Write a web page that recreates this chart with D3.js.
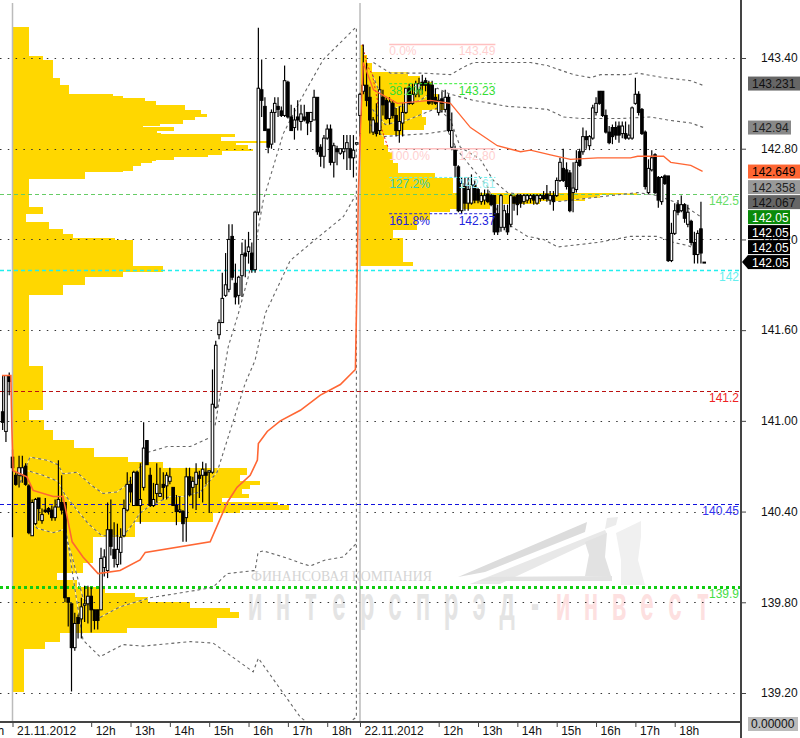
<!DOCTYPE html>
<html>
<head>
<meta charset="utf-8">
<script src="https://cdn.jsdelivr.net/npm/d3@7"></script>
<style>
body { margin: 0; background: #fff; }
text { font-family: 'Liberation Sans', Arial, sans-serif; font-size: 12px; }
.axis path, .axis line { stroke: #444; }
</style>
</head>
<body>
<script>
// price axis
var priceTicks = [143.40, 142.80, 142.20, 141.60, 141.00, 140.40, 139.80, 139.20];

// time axis, in 5 minute bars from the 21.11 open
var timeTicks = [-10, 0, 24, 36, 48, 60, 72, 84, 96, 106, 130, 142, 154, 166, 178, 190, 202];
var timeLabels = ['18h', '21.11.2012', '12h', '13h', '14h', '15h', '16h', '17h', '18h', '22.11.2012', '12h', '13h', '14h', '15h', '16h', '17h', '18h'];

// [open, high, low, close], the first bar of this list is bar -3
var candlesDay1 = [
    [141.06,141.30,140.94,140.99],[140.93,141.30,140.86,141.30],[141.30,141.32,141.17,141.26],
    [140.76,140.81,140.23,140.69],[140.64,140.66,140.57,140.58],[140.64,140.77,140.56,140.69],[140.64,140.77,140.59,140.69],
    [140.70,140.72,140.57,140.58],[140.57,140.58,140.25,140.26],[140.24,140.48,140.24,140.46],[140.32,140.49,140.31,140.48],
    [140.49,140.49,140.34,140.42],[140.34,140.42,140.32,140.38],[140.41,140.49,140.39,140.40],[140.42,140.43,140.38,140.40],
    [140.41,140.44,140.34,140.36],[140.36,140.48,140.34,140.43],[140.43,140.74,140.43,140.48],[140.46,140.64,140.38,140.41],
    [140.46,140.46,139.80,139.83],[139.83,139.83,139.64,139.80],[139.79,139.79,139.21,139.50],[139.50,139.73,139.48,139.66],
    [139.70,139.72,139.56,139.66],[139.69,139.83,139.56,139.77],[139.78,139.91,139.67,139.79],[139.79,139.91,139.66,139.84],
    [139.84,139.90,139.60,139.75],[139.75,139.75,139.62,139.68],[139.75,139.75,139.62,139.68],[139.75,140.16,139.75,140.09],
    [140.03,140.15,139.97,140.10],[140.01,140.46,139.96,140.28],[140.28,140.48,140.11,140.17],[140.15,140.33,140.03,140.09],
    [140.05,140.32,140.03,140.15],[140.13,140.29,140.05,140.23],[140.24,140.48,140.23,140.42],[140.41,140.66,140.40,140.58],
    [140.58,140.63,140.46,140.53],[140.44,140.67,140.44,140.66],[140.66,140.67,140.44,140.44],[140.44,140.72,140.32,140.48],
    [140.56,140.99,140.54,140.82],[140.87,140.87,140.71,140.71],[140.64,140.69,140.43,140.44],[140.44,140.59,140.43,140.48],
    [140.52,140.72,140.46,140.58],[140.50,140.69,140.50,140.52],[140.58,140.66,140.48,140.56],[140.57,140.66,140.48,140.64],
    [140.60,140.69,140.58,140.63],[140.56,140.56,140.44,140.44],[140.44,140.51,140.31,140.40],[140.40,140.50,140.39,140.41],
    [140.40,140.41,140.20,140.32],[140.36,140.69,140.20,140.63],[140.63,140.69,140.50,140.51],[140.56,140.63,140.42,140.60],
    [140.58,140.72,140.41,140.66],[140.64,140.67,140.49,140.62],[140.64,140.73,140.46,140.68],[140.66,140.72,140.58,140.64],
    [140.66,140.67,140.39,140.67],[140.66,141.34,140.65,141.11],[141.09,141.53,141.08,141.50],[141.57,141.67,141.54,141.65],
    [141.65,141.98,141.65,141.81],[141.83,142.11,141.82,141.90],[141.87,142.30,141.85,142.20],[142.22,142.30,141.93,141.95],
    [141.91,142.04,141.77,141.82],[141.83,141.96,141.77,141.95],[141.96,142.18,141.82,142.10],[142.11,142.20,141.95,142.09],
    [142.12,142.25,142.04,142.15],[142.11,142.18,141.98,142.00],[142.00,142.39,141.98,142.38],[142.38,143.60,142.36,143.20],
    [143.19,143.39,143.01,143.12],[143.08,143.14,142.92,142.92],[142.93,142.93,142.77,142.81],[142.83,143.06,142.80,143.04],
    [143.04,143.14,142.84,143.10],[143.08,143.14,143.01,143.06],[143.05,143.08,143.01,143.02],[143.02,143.35,143.01,143.25],
    [143.24,143.25,143.00,143.01],[143.01,143.09,142.92,142.92],[142.94,143.07,142.86,142.99],[143.01,143.12,142.92,142.99],
    [142.98,143.09,142.92,143.03],[143.01,143.09,142.98,142.99],[143.04,143.04,142.89,142.97],[142.98,143.04,142.91,143.04],
    [142.99,143.19,142.99,143.14],[143.14,143.14,142.76,142.78],[142.81,142.83,142.68,142.75],[142.75,142.89,142.67,142.87],
    [142.87,142.96,142.86,142.93],[142.93,142.96,142.69,142.71],[142.71,142.84,142.61,142.82],[142.80,142.82,142.69,142.78],
    [142.77,142.80,142.76,142.80],[142.78,142.89,142.73,142.80],[142.80,142.89,142.66,142.84],[142.80,142.89,142.66,142.74],
    [142.74,142.89,142.61,142.79],[142.83,142.84,142.83,142.84]
];

// the first bar of this list is bar 106
var candlesDay2 = [
    [143.02,143.17,142.88,143.16],[143.18,143.49,143.16,143.22],[143.22,143.37,143.08,143.12],[143.14,143.21,142.90,142.99],
    [142.91,143.01,142.89,142.99],[142.97,143.10,142.88,142.90],[142.92,143.28,142.89,143.19],[143.14,143.19,143.02,143.09],
    [143.12,143.14,142.99,143.00],[143.00,143.14,142.96,143.11],[143.10,143.12,143.00,143.02],[143.02,143.07,142.88,142.92],
    [142.92,143.08,142.84,142.98],[142.97,143.10,142.88,143.04],[143.04,143.20,143.03,143.20],[143.20,143.23,143.09,143.10],
    [143.10,143.23,143.09,143.16],[143.16,143.25,143.14,143.23],[143.19,143.27,143.14,143.23],[143.24,143.29,143.16,143.22],
    [143.25,143.27,143.18,143.22],[143.23,143.25,143.09,143.10],[143.22,143.25,143.09,143.11],[143.14,143.20,143.09,143.10],
    [143.04,143.16,143.02,143.12],[143.13,143.18,143.04,143.10],[143.06,143.19,143.04,143.14],[143.14,143.16,142.91,142.92],
    [142.81,143.04,142.79,142.92],[142.79,142.82,142.61,142.69],[142.68,142.69,142.38,142.39],[142.39,142.61,142.37,142.57],
    [142.55,142.61,142.39,142.44],[142.44,142.61,142.39,142.53],[142.44,142.63,142.43,142.56],[142.56,142.59,142.44,142.46],
    [142.53,142.54,142.44,142.46],[142.45,142.51,142.43,142.49],[142.46,142.53,142.43,142.49],[142.50,142.53,142.44,142.45],
    [142.49,142.50,142.42,142.43],[142.49,142.49,142.23,142.25],[142.37,142.43,142.23,142.25],[142.28,142.50,142.25,142.49],
    [142.28,142.43,142.26,142.39],[142.37,142.43,142.23,142.25],[142.30,142.50,142.28,142.49],[142.48,142.49,142.39,142.44],
    [142.49,142.50,142.36,142.43],[142.49,142.50,142.41,142.44],[142.45,142.50,142.43,142.49],[142.46,142.50,142.44,142.49],
    [142.47,142.50,142.44,142.49],[142.49,142.50,142.43,142.46],[142.44,142.50,142.43,142.49],[142.47,142.50,142.45,142.49],
    [142.49,142.52,142.46,142.47],[142.50,142.56,142.45,142.47],[142.46,142.52,142.43,142.49],[142.49,142.52,142.39,142.45],
    [142.49,142.61,142.48,142.59],[142.59,142.74,142.58,142.71],[142.67,142.80,142.58,142.59],[142.66,142.71,142.53,142.55],
    [142.64,142.66,142.38,142.39],[142.51,142.71,142.38,142.54],[142.53,142.79,142.51,142.71],[142.78,142.80,142.68,142.69],
    [142.78,142.94,142.76,142.88],[142.88,142.92,142.80,142.86],[142.82,142.89,142.79,142.88],[142.87,143.09,142.86,143.07],
    [143.04,143.14,143.02,143.10],[143.18,143.18,143.09,143.10],[143.18,143.18,143.01,143.02],[143.02,143.06,142.90,142.91],
    [142.91,142.95,142.83,142.84],[142.94,142.96,142.83,142.88],[142.94,142.98,142.86,142.89],[142.95,142.98,142.84,142.89],
    [142.90,142.98,142.87,142.95],[142.90,142.98,142.86,142.87],[142.87,142.96,142.86,142.89],[142.87,143.08,142.86,143.07],
    [143.10,143.27,143.09,143.16],[143.16,143.18,143.02,143.04],[143.06,143.07,142.89,142.90],[142.91,142.92,142.53,142.55],
    [142.51,142.73,142.50,142.67],[142.66,142.79,142.65,142.74],[142.76,142.77,142.50,142.51],[142.61,142.62,142.41,142.46],
    [142.45,142.62,142.43,142.61],[142.62,142.63,142.56,142.57],[142.62,142.62,142.05,142.06],[142.06,142.31,142.05,142.24],
    [142.24,142.44,142.23,142.39],[142.43,142.46,142.36,142.38],[142.39,142.49,142.38,142.43],[142.43,142.44,142.31,142.34],
    [142.30,142.43,142.28,142.38],[142.32,142.33,142.16,142.18],[142.18,142.25,142.04,142.10],[142.10,142.26,142.04,142.24],
    [142.27,142.45,142.04,142.11],[142.05,142.05,142.05,142.05]
];

// volume profile, [top price of the step, volume]
var profileDay1 = [
    [143.605,16],[143.414,30],[143.387,40],[143.268,47],[143.222,56],[143.162,100],[143.149,110],[143.136,132],[143.116,143],
    [143.089,172],[143.056,188],[143.030,194],[143.010,182],[142.990,170],[142.964,147],[142.951,130],[142.944,161],[142.917,144],
    [142.904,148],[142.898,222],[142.878,208],[142.851,258],[142.835,223],[142.825,235],[142.798,240],[142.785,209],[142.759,195],
    [142.745,161],[142.726,143],[142.716,139],[142.706,128],[142.686,120],[142.653,110],[142.646,72],[142.600,16],[142.415,30],
    [142.368,13],[142.315,36],[142.269,50],[142.236,60],[142.210,102],[142.196,120],[142.024,150],[141.985,110],[141.952,72],
    [141.899,50],[141.833,16],[141.363,30],[141.072,16],[141.006,31],[140.940,40],[140.873,61],[140.820,81],[140.761,115],
    [140.728,150],[140.688,234],[140.642,227],[140.602,247],[140.576,237],[140.549,229],[140.516,236],[140.490,209],[140.463,265],
    [140.443,276],[140.410,227],[140.390,200],[140.331,122],[140.232,80],[140.060,70],[139.994,44],[139.947,64],[139.901,92],
    [139.861,122],[139.835,135],[139.802,177],[139.762,217],[139.736,226],[139.696,204],[139.630,114],[139.597,47],[139.537,32],
    [139.491,11],[139.206,0]
];
var profileDay2 = [
    [143.486,3],[143.420,7],[143.367,12],[143.308,48],[143.281,60],[143.242,72],[143.162,78],[143.103,85],[143.056,62],[143.010,66],
    [142.957,64],[142.924,43],[142.891,24],[142.825,28],[142.778,33],[142.706,38],[142.640,75],[142.607,93],[142.573,93],[142.507,277],
    [142.494,240],[142.474,225],[142.454,180],[142.435,130],[142.401,90],[142.382,70],[142.329,57],[142.263,33],[142.210,43],
    [142.051,53],[142.024,0]
];

// channel lines, [bar, price]
var bandUpperOuter = [[61.8,140.97],[65.8,141.49],[68.9,141.71],[71.9,141.95],[74,142.15],[76.5,142.46],[82.6,142.90],[87.8,143.12],[94.8,143.39],[104.6,143.60]];
var bandUpper = [[2.3,140.59],[5.3,140.76],[10.5,140.74],[13.9,140.71],[15.4,140.65],[19.7,140.66],[23.7,140.58],[27.6,140.52],[31.9,140.53],[35,140.58],[36.8,140.63],[39.8,140.72],[41,140.79],[47.2,140.83],[54.2,140.83],[60.3,140.89]];
var bandMiddle = [[2.3,140.63],[4.7,140.67],[9.3,140.64],[13.9,140.60],[16,140.51],[19.7,140.41],[23.1,140.32],[27.3,140.24],[33.7,140.24],[36.8,140.32],[38.9,140.39],[41.4,140.43],[44.1,140.46],[48.1,140.50],[52.1,140.50],[57.3,140.53],[62.4,140.66],[71,141.25],[74,141.40],[77.1,141.71],[84.7,142.06],[92.4,142.20],[100.9,142.35],[104.6,142.49]];
var bandLower = [[4.7,140.36],[7.5,140.29],[12.4,140.26],[15.4,140.28],[16.9,140.19],[18.2,140.10],[20.6,139.90],[21.5,139.83],[26.7,139.70],[32.8,139.77],[42,139.83],[56.3,139.88],[61.2,139.90],[65.5,139.99],[74,140.01],[74.9,140.13],[76.5,140.14],[82.6,140.10],[87.8,140.06],[90.8,140.04],[95.4,140.08],[100.9,140.10],[104.9,140.19]];
var bandLowerOuter = [[16.3,140.28],[19.1,139.88],[21.5,139.55],[26.7,139.44],[33.7,139.52],[39.8,139.51],[54.2,139.54],[61.2,139.53],[73.4,139.34],[75,139.43],[87.8,139.04],[89.6,139.01],[96.9,138.86],[103,139.01],[104.9,139.04],[104.9,143.60]];
var bandUpperOuter2 = [[110.1,143.37],[115.3,143.30],[125.3,143.30],[133.6,143.29],[137.6,143.34],[140.6,143.37],[158,143.37],[163.2,143.35],[171.1,143.29],[176.3,143.27],[179.4,143.29],[187.6,143.29],[190.7,143.30],[198.6,143.27],[206.9,143.25],[210.5,143.22]];
var bandUpper2 = [[109.8,143.29],[112.2,143.16],[115.3,143.06],[124.4,143.12],[129.6,143.20],[133.6,143.16],[140.6,143.12],[151,143.08],[158,143.07],[163.2,143.06],[168.1,143.01],[173.3,143.00],[185.5,143.00],[194.7,143.01],[199.8,142.99],[206.9,142.97],[210.8,142.94]];
var bandLower2 = [[109.8,143.06],[113.7,142.96],[120.5,142.99],[129.6,143.07],[133.6,142.99],[136.6,142.81],[142.7,142.73],[146.7,142.59],[151,142.51],[157.1,142.49],[166.3,142.45],[178.5,142.48],[190.7,142.51],[196.8,142.49],[201.7,142.45],[205.9,142.41],[209.9,142.35]];
var bandLowerOuter2 = [[109.2,142.96],[113.1,142.88],[119.2,142.89],[126.6,142.90],[132.7,142.92],[135.7,142.79],[140.6,142.66],[144.9,142.55],[148.9,142.33],[157.1,142.22],[162,142.20],[166.3,142.15],[178.5,142.18],[188.5,142.22],[196.8,142.22],[201.7,142.18],[205.9,142.16],[209,142.13]];

// average price line
var vwapDay1 = [[-3.2,141.30],[-0.5,141.30],[-0.2,140.96],[0.2,140.67],[4.4,140.63],[6.3,140.54],[12.4,140.50],[15.4,140.50],[16.9,140.34],[18.2,140.20],[21.5,140.10],[26.1,139.99],[32.8,140.01],[38.9,140.08],[40.5,140.13],[60.3,140.20],[65.5,140.46],[68.5,140.56],[72.5,140.64],[74.7,140.74],[75,140.85],[77.7,140.93],[81.7,141.00],[87.8,141.07],[93.9,141.17],[100,141.24],[104.6,141.34],[105.2,142.06],[105.5,142.51],[106.1,142.90]];
var vwapDay2 = [[106.1,142.90],[107,143.37],[110.1,143.19],[117.4,143.10],[127.5,143.12],[133.6,143.10],[139.7,142.94],[147.9,142.82],[155,142.78],[158,142.79],[164.1,142.76],[170.2,142.73],[178.5,142.74],[188.5,142.74],[190.7,142.75],[198.6,142.75],[200.8,142.71],[206.9,142.69],[210.5,142.65]];

// swing line of the fibonacci tool
var fibSwing = [[106.7,143.49],[108.2,143.35],[109.8,143.29],[111.3,143.12],[112.2,142.96],[113.7,142.86],[114.7,142.80]];

// horizontal levels
var levelPrices = [142.5, 142, 141.2, 140.45, 139.9];
var levelLabels = ['142.5', '142', '141.2', '140.45', '139.9'];

// fibonacci levels
var fibPrices = [143.49, 143.23, 142.80, 142.61, 142.37];
var fibPercents = ['0.0%', '38.2%', '100.0%', '127.2%', '161.8%'];
var fibValues = ['143.49', '143.23', '142.80', '142.61', '142.37'];

// labels on the price axis
var markerPrices = [143.231, 142.94, 142.649, 142.358, 142.067, 142.05, 142.05, 142.05, 142.05];
var markerLabels = ['143.231', '142.94', '142.649', '142.358', '142.067', '142.05', '142.05', '142.05', '142.05'];

var WIDTH = 800, HEIGHT = 738, PLOT_RIGHT = 741, PLOT_BOTTOM = 722;
var LEVEL_STYLES = [
    {stroke: '#66cc66', width: 1, dash: '4,3', text: '#66dd66'},
    {stroke: '#22eeee', width: 1.5, dash: '4,3', text: '#66eeee'},
    {stroke: '#bb1111', width: 1, dash: '4,3', text: '#ee2222'},
    {stroke: '#1111dd', width: 1, dash: '4,3', text: '#3333ee'},
    {stroke: '#11cc11', width: 3, dash: '3,3', text: '#44dd44'}
];
var FIB_STYLES = [
    {stroke: '#ffc0c0', dash: null, left: '#ffd0d0', right: '#ffd0d0'},
    {stroke: '#33ee33', dash: '3,2', left: '#33dd33', right: '#33dd33'},
    {stroke: '#ffc0c0', dash: null, left: '#ffd0d0', right: '#ffd0d0'},
    {stroke: '#66eeee', dash: '3,2', left: '#33ccbb', right: '#99eeee'},
    {stroke: '#2222dd', dash: '3,2', left: '#2222dd', right: '#2222dd'}
];
var MARKER_FILLS = ['#666', '#888', '#ff6633', '#999', '#666', '#0a8a0a', '#000', '#000', '#000'];
var MARKER_TEXTS = ['#111', '#222', '#000', '#222', '#111', '#fff', '#fff', '#fff', '#fff'];
var MARKER_WIDTHS = [52, 43, 52, 52, 52, 42, 42, 42, 42];

var x = d3.scaleLinear().domain([0, 106]).range([12.5, 360]);
var y = d3.scaleLinear().domain([143.40, 139.20]).range([58, 693]);
var volume = d3.scaleLinear().domain([0, 100]).range([0, 100]);

var svg = d3.select('body').append('svg').attr('width', WIDTH).attr('height', HEIGHT)
    .style('display', 'block').style('background', '#fff');

svg.append('clipPath').attr('id', 'plot').append('rect')
    .attr('width', PLOT_RIGHT).attr('height', PLOT_BOTTOM);

var plot = svg.append('g').attr('clip-path', 'url(#plot)');

drawProfile(profileDay1, 0);
drawProfile(profileDay2, 106);
drawWatermark();

// dotted price grid
plot.append('g').selectAll('line').data(priceTicks).join('line')
    .attr('x1', 0).attr('x2', 736)
    .attr('y1', d => Math.round(y(d)) + 0.5).attr('y2', d => Math.round(y(d)) + 0.5)
    .attr('stroke', '#333').attr('stroke-dasharray', '1.5,6.3');

// day separators
plot.append('g').selectAll('line').data([0, 106]).join('line')
    .attr('x1', d => x(d)).attr('x2', d => x(d))
    .attr('y1', 3).attr('y2', PLOT_BOTTOM)
    .attr('stroke', '#bbb').attr('stroke-width', 1.5);

plot.append('g').selectAll('line').data(levelPrices).join('line')
    .attr('x1', 0).attr('x2', PLOT_RIGHT)
    .attr('y1', d => Math.round(y(d)) + 0.5).attr('y2', d => Math.round(y(d)) + 0.5)
    .attr('stroke', (d, i) => LEVEL_STYLES[i].stroke)
    .attr('stroke-width', (d, i) => LEVEL_STYLES[i].width)
    .attr('stroke-dasharray', (d, i) => LEVEL_STYLES[i].dash);

var line = d3.line().x(d => x(d[0])).y(d => y(d[1]));

var bands = [bandUpperOuter, bandUpper, bandMiddle, bandLower, bandLowerOuter,
    bandUpperOuter2, bandUpper2, bandLower2, bandLowerOuter2];

// a white line under the dashes shows up only where a band crosses the yellow
plot.append('g').selectAll('path').data(bands).join('path')
    .attr('d', line).attr('fill', 'none')
    .attr('stroke', '#fff').attr('stroke-width', 1).attr('opacity', 0.6);
plot.append('g').selectAll('path').data(bands).join('path')
    .attr('d', line).attr('fill', 'none')
    .attr('stroke', '#666').attr('stroke-width', 1.1).attr('stroke-dasharray', '3,3');

plot.append('path').datum(fibSwing).attr('d', line).attr('fill', 'none')
    .attr('stroke', '#e22').attr('stroke-width', 1).attr('stroke-dasharray', '2,2');

var candles = candlesDay1.map((d, i) => ({bar: i - 3, o: d[0], h: d[1], l: d[2], c: d[3]}))
    .concat(candlesDay2.map((d, i) => ({bar: i + 106, o: d[0], h: d[1], l: d[2], c: d[3]})));

var candle = plot.append('g').selectAll('g').data(candles).join('g');

candle.append('line')
    .attr('x1', d => x(d.bar)).attr('x2', d => x(d.bar))
    .attr('y1', d => y(d.h)).attr('y2', d => y(d.l))
    .attr('stroke', '#000').attr('stroke-width', 1.2);

candle.append('rect')
    .attr('x', d => x(d.bar) - 1.3).attr('width', 2.6)
    .attr('y', d => y(Math.max(d.o, d.c)))
    .attr('height', d => Math.max(1, Math.abs(y(d.o) - y(d.c))))
    .attr('fill', d => d.c >= d.o ? '#fff' : '#000')
    .attr('stroke', '#000').attr('stroke-width', 1);

plot.append('path').datum(vwapDay1).attr('d', line).attr('fill', 'none')
    .attr('stroke', '#ff6633').attr('stroke-width', 1.6);
plot.append('path').datum(vwapDay2).attr('d', line).attr('fill', 'none')
    .attr('stroke', '#ff6633').attr('stroke-width', 1.3);

// fibonacci lines and their texts
var fibLeft = x(114.9), fibRight = x(147.3);
var fib = plot.append('g').selectAll('g').data(fibPrices).join('g');
fib.append('line')
    .attr('x1', fibLeft).attr('x2', fibRight)
    .attr('y1', d => y(d)).attr('y2', d => y(d))
    .attr('stroke', (d, i) => FIB_STYLES[i].stroke)
    .attr('stroke-width', (d, i) => i == 0 || i == 2 ? 1.5 : 1)
    .attr('stroke-dasharray', (d, i) => FIB_STYLES[i].dash);
fib.append('text')
    .attr('x', fibLeft).attr('y', d => y(d) + 11)
    .attr('fill', (d, i) => FIB_STYLES[i].left)
    .text((d, i) => fibPercents[i]);
fib.append('text')
    .attr('x', fibRight).attr('y', d => y(d) + 11)
    .attr('text-anchor', 'end')
    .attr('fill', (d, i) => FIB_STYLES[i].right)
    .text((d, i) => fibValues[i]);

// level labels
plot.append('g').selectAll('text').data(levelPrices).join('text')
    .attr('x', 739).attr('y', d => y(d) + 11)
    .attr('text-anchor', 'end')
    .attr('fill', (d, i) => LEVEL_STYLES[i].text)
    .text((d, i) => levelLabels[i]);

// axes
var yAxis = svg.append('g').attr('class', 'axis').attr('transform', 'translate(' + PLOT_RIGHT + ',0)')
    .call(d3.axisRight(y).tickValues(priceTicks).tickFormat(d3.format('.2f')).tickSize(5).tickPadding(15));
yAxis.select('.domain').attr('d', 'M0,0V' + HEIGHT).attr('stroke-width', 2);
yAxis.selectAll('text').attr('fill', '#111');

var xAxis = svg.append('g').attr('class', 'axis').attr('transform', 'translate(0,' + PLOT_BOTTOM + ')')
    .call(d3.axisBottom(x).tickValues(timeTicks).tickFormat((d, i) => timeLabels[i]).tickSize(5));
xAxis.select('.domain').attr('d', 'M0,0H' + PLOT_RIGHT).attr('stroke-width', 2);
xAxis.selectAll('text')
    .attr('x', 4).attr('y', 4).attr('dy', '0.71em')
    .attr('text-anchor', 'start').attr('fill', '#111');

// markers on the price axis, stacked upwards where they would overlap
var markerY = [];
for (var i = markerPrices.length - 1, prev = Infinity; i >= 0; i--) {
    prev = Math.min(y(markerPrices[i]), prev - 15);
    markerY[i] = prev;
}

var marker = svg.append('g').selectAll('g').data(markerPrices).join('g')
    .attr('transform', (d, i) => 'translate(748,' + markerY[i] + ')');
marker.append('rect')
    .attr('y', -7).attr('height', 14)
    .attr('width', (d, i) => MARKER_WIDTHS[i])
    .attr('fill', (d, i) => MARKER_FILLS[i]);
marker.append('text')
    .attr('x', 4).attr('y', 4.5)
    .attr('fill', (d, i) => MARKER_TEXTS[i])
    .text((d, i) => markerLabels[i]);

svg.append('path')
    .attr('d', d3.line()([[PLOT_RIGHT + 1, markerY[8]], [748, markerY[8] - 7], [748, markerY[8] + 7]]))
    .attr('fill', '#000');

svg.append('rect').attr('x', 748).attr('y', 717).attr('width', 50).attr('height', 14).attr('fill', '#bbb');
svg.append('text').attr('x', 751).attr('y', 728).attr('fill', '#111').text('0.00000');

function drawProfile(rows, startBar) {
    plot.append('g').selectAll('rect').data(rows.slice(0, -1)).join('rect')
        .attr('x', x(startBar))
        .attr('y', d => y(d[0]))
        .attr('width', d => volume(d[1]))
        .attr('height', (d, i) => y(rows[i + 1][0]) - y(d[0]))
        .attr('fill', '#ffd700')
        .attr('shape-rendering', 'crispEdges');
}

// company logo and name behind the chart
function drawWatermark() {
    var mark = plot.append('g');
    var shapes = [
        {fill: '#dcdcdc', points: [[458,577],[587,522],[585,532],[485,572]]},
        {fill: '#e8e8e8', points: [[470,584],[605,530],[607,534],[500,584]]},
        {fill: '#e2e2e2', points: [[585,542],[607,533],[605,557],[611,576],[585,576],[589,555]]},
        {fill: '#ececec', points: [[607,518],[618,517],[616,525],[605,529]]},
        {fill: '#f0f0f0', points: [[616,533],[641,521],[641,537],[638,560],[645,585],[621,585],[621,560]]},
        {fill: '#e2e2e2', points: [[490,577],[612,576],[612,581],[478,581]]}
    ];
    mark.selectAll('polygon').data(shapes).join('polygon')
        .attr('points', d => d.points.join(' '))
        .attr('fill', d => d.fill);
    mark.append('text')
        .attr('x', 251).attr('y', 581)
        .attr('textLength', 181).attr('lengthAdjust', 'spacingAndGlyphs')
        .style('font-family', "'Liberation Serif', serif").style('font-size', '14px')
        .attr('fill', '#d4d4d4')
        .text('ФИНАНСОВАЯ КОМПАНИЯ');
    var letters = 'интерспрэд-инвест'.split('');
    mark.selectAll('text.letter').data(letters).join('text')
        .attr('class', 'letter')
        .attr('transform', (d, i) => 'translate(' + (255 + i * 28) + ',620) scale(0.8,1.6)')
        .attr('text-anchor', 'middle')
        .style('font-size', '30px').style('font-weight', 'bold')
        .attr('fill', (d, i) => i < 11 ? '#e4e4e4' : '#fde0e0')
        .text(d => d);
}
</script>
</body>
</html>
